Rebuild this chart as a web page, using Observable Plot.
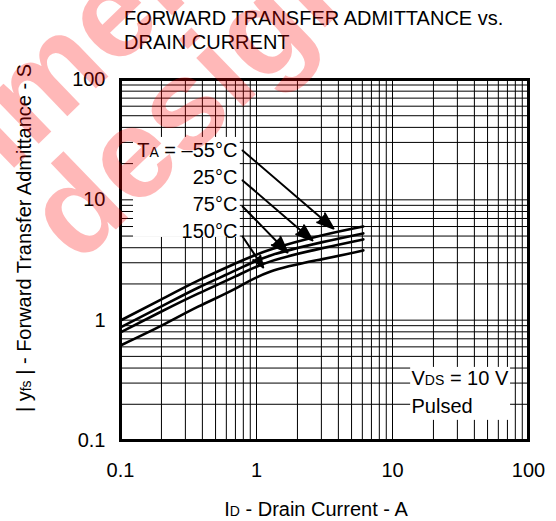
<!DOCTYPE html>
<html><head><meta charset="utf-8">
<script src="https://cdn.jsdelivr.net/npm/d3@7"></script>
<script src="https://cdn.jsdelivr.net/npm/@observablehq/plot@0.6"></script>
<style>
html,body{margin:0;padding:0;background:#fff;}
#chart{position:relative;width:556px;height:521px;overflow:hidden;}
#chart svg{font-family:Arial,"Liberation Sans",sans-serif;display:block;}
</style></head><body><div id="chart"></div>
<script>
// ---- data ----
const temps = ["-55°C", "25°C", "75°C", "150°C"];
const drainCurrent = [0.1, 0.2, 0.375, 0.7, 1.27, 3, 6.1];          // A
const yfsM55 = [0.994, 1.49, 2.14, 2.96, 3.87, 5.06, 6.01];          // S
const yfs25  = [0.870, 1.30, 1.87, 2.59, 3.45, 4.43, 5.26];
const yfs75  = [0.791, 1.18, 1.67, 2.31, 3.08, 3.95, 4.69];
const yfs150 = [0.616, 0.90, 1.30, 1.83, 2.54, 3.20, 3.80];
const xTickValues = [0.1, 1, 10, 100];
const xTickLabels = ["0.1", "1", "10", "100"];
const yTickValues = [0.1, 1, 10, 100];
const yTickLabels = ["0.1", "1", "10", "100"];
const tempLabels = ["TA = –55°C", "25°C", "75°C", "150°C"];
const tempLabelX = [0.724, 0.724, 0.724, 0.724];
const tempLabelY = [25.7, 15.2, 9.2, 5.46];
const arrowFromX = [0.79, 0.79, 0.79, 0.79];
const arrowFromY = [25.7, 14.5, 8.81, 4.96];
const arrowToX = [3.68, 2.58, 1.69, 1.12];
const arrowToY = [5.78, 4.6, 3.65, 2.74];
const condLabels = ["VDS = 10 V", "Pulsed"];
const condLabelX = [13.8, 13.8];
const condLabelY = [0.327, 0.192];
const titleLines = ["FORWARD TRANSFER ADMITTANCE vs.", "DRAIN CURRENT"];
const xLabel = "ID - Drain Current - A";
const yLabel = "| yfs | - Forward Transfer Admittance - S";
const watermark = ["recommended", "design"];

// ---- derived tables ----
const yfsSeries = [yfsM55, yfs25, yfs75, yfs150];
const curves = temps.flatMap((t, i) => drainCurrent.map((x, j) => ({t, x, y: yfsSeries[i][j]})));
const grid = [];
for (const d of [0.1, 1, 10]) for (let k = 1; k <= 9; k++) grid.push(+(d * k).toPrecision(3));
grid.push(100);
const labelBox = [{x1: 0.1246, x2: 0.76, y1: 4.87, y2: 33}];
const condBox = [{x1: 13.6, x2: 73.8, y1: 0.147, y2: 0.405}];
const arrows = arrowFromX.map((_, i) => ({x1: arrowFromX[i], y1: arrowFromY[i], x2: arrowToX[i], y2: arrowToY[i]}));
const tLabels = tempLabels.map((s, i) => ({s, x: tempLabelX[i], y: tempLabelY[i]}));
const cLabels = condLabels.map((s, i) => ({s, x: condLabelX[i], y: condLabelY[i]}));
const xFmt = new Map(xTickValues.map((v, i) => [v, xTickLabels[i]]));
const yFmt = new Map(yTickValues.map((v, i) => [v, yTickLabels[i]]));

const plot = Plot.plot({
  width: 556, height: 521,
  marginLeft: 120, marginRight: 28, marginTop: 79, marginBottom: 81,
  style: {fontFamily: "Arial, 'Liberation Sans', sans-serif", fontSize: "20px", background: "#fff", color: "#000", overflow: "visible"},
  x: {type: "log", domain: [0.1, 100], ticks: xTickValues, tickFormat: d => xFmt.get(d), tickSize: 0, tickPadding: 22, label: null},
  y: {type: "log", domain: [0.1, 100], ticks: yTickValues, tickFormat: d => yFmt.get(d), tickSize: 0, tickPadding: 15, label: null},
  marks: [
    Plot.ruleX(grid, {stroke: "#000", strokeWidth: 1}),
    Plot.ruleY(grid, {stroke: "#000", strokeWidth: 1}),
    Plot.rect(labelBox, {x1: "x1", x2: "x2", y1: "y1", y2: "y2", fill: "#fff"}),
    Plot.rect(condBox, {x1: "x1", x2: "x2", y1: "y1", y2: "y2", fill: "#fff"}),
    Plot.line(curves, {x: "x", y: "y", z: "t", stroke: "#000", strokeWidth: 2.6, curve: "natural"}),
    Plot.arrow(arrows, {x1: "x1", y1: "y1", x2: "x2", y2: "y2", stroke: "#000", strokeWidth: 2, headLength: 13, headAngle: 40}),
    Plot.text(tLabels, {x: "x", y: "y", text: "s", textAnchor: "end", fontSize: 20, fill: "#000"}),
    Plot.text(cLabels, {x: "x", y: "y", text: "s", textAnchor: "start", fontSize: 20, fill: "#000"}),
    Plot.frame({stroke: "#000", strokeWidth: 3})
  ]
});
document.getElementById("chart").appendChild(plot);

const svg = d3.select(plot);
// filled arrow heads
svg.selectAll("g[aria-label='arrow'] path").attr("fill", "#000").attr("stroke-linejoin", "miter");
// subscripts
function subscriptify(full, pre, sub, post) {
  svg.selectAll("text").filter(function () { return this.textContent === full && this.childElementCount === 0; })
    .each(function () {
      const t = d3.select(this); t.text(null);
      t.append("tspan").text(pre);
      t.append("tspan").attr("font-size", 14).text(sub);
      t.append("tspan").text(post);
    });
}
subscriptify("TA = –55°C", "T", "A", " = –55°C");
subscriptify("VDS = 10 V", "V", "DS", " = 10 V");

const g = svg.append("g").attr("fill", "#000").attr("font-size", 20);
g.selectAll("text.title").data(titleLines).join("text").attr("class", "title")
  .attr("text-anchor", "start").attr("x", 124).attr("y", (d, i) => 25 + i * 23.5).text(d => d);
const xl = g.append("text").attr("x", 316).attr("y", 516).attr("text-anchor", "middle");
xl.append("tspan").text(xLabel.slice(0, 1));
xl.append("tspan").attr("font-size", 14).text(xLabel.slice(1, 2));
xl.append("tspan").text(xLabel.slice(2));
const yl = g.append("text").attr("transform", "translate(31,238) rotate(-90)").attr("text-anchor", "middle");
yl.append("tspan").text("| y");
yl.append("tspan").attr("font-size", 14).text("fs");
yl.append("tspan").text(yLabel.slice(5));

// watermark (semi-transparent)
const wm = svg.append("g").attr("fill", "#ff0000").attr("fill-opacity", 0.28).attr("text-anchor", "start")
  .attr("font-weight", "bold").attr("font-size", 128).attr("font-family", "Arial, 'Liberation Sans', sans-serif");
wm.append("text").attr("transform", "translate(-244,417) rotate(-44)").text(watermark[0]);
wm.append("text").attr("transform", "translate(78,266) rotate(-44)").text(watermark[1]);
</script></body></html>
